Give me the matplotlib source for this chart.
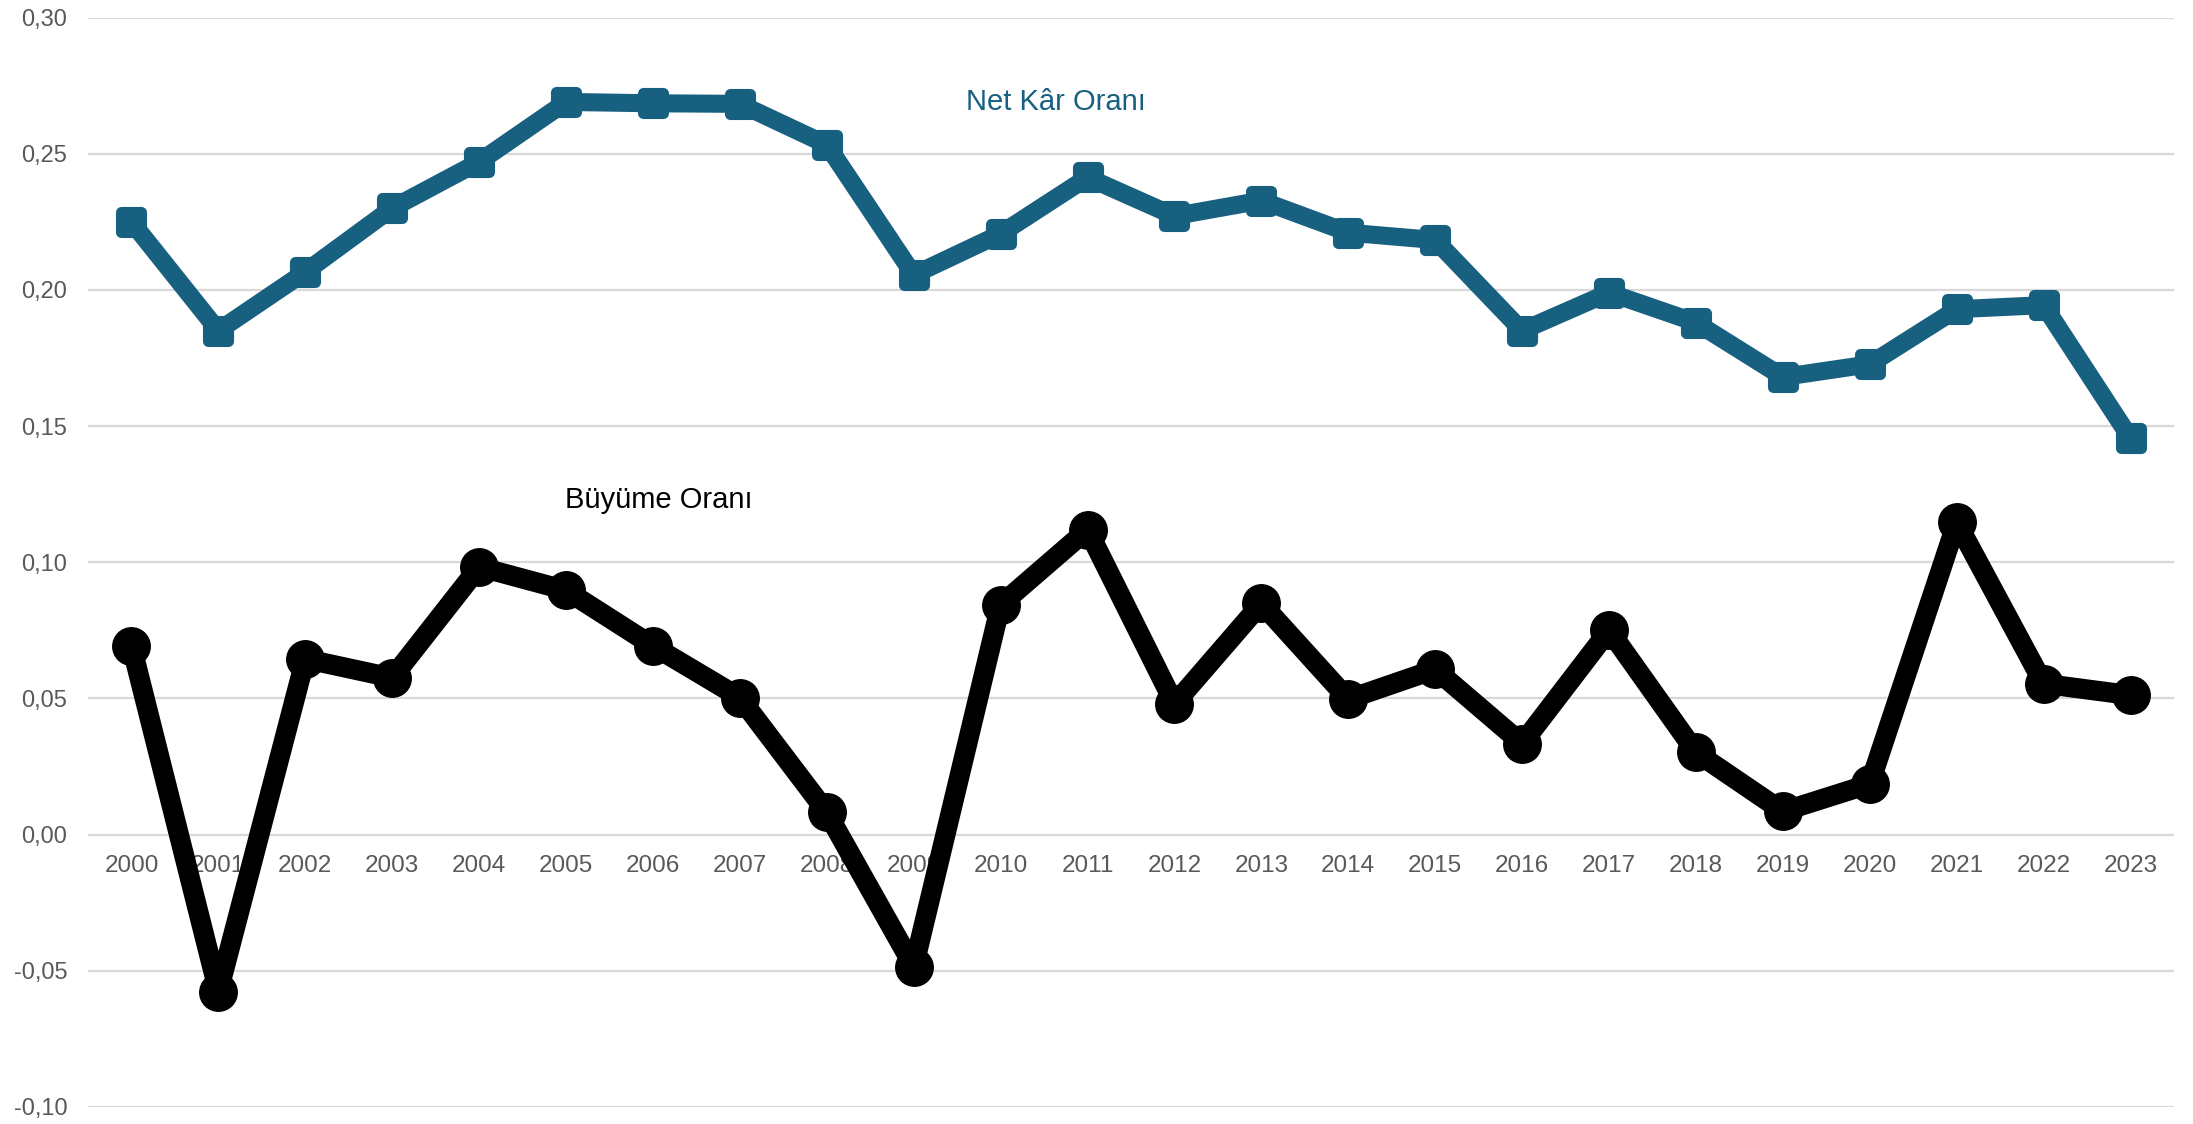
import matplotlib
matplotlib.use("Agg")
import matplotlib.pyplot as plt
from matplotlib.ticker import FuncFormatter
from matplotlib.markers import MarkerStyle

years = [str(y) for y in range(2000, 2024)]
net_kar = [0.225, 0.185, 0.2066, 0.230, 0.247, 0.269, 0.2685, 0.2683, 0.2533, 0.2055,
           0.2206, 0.2413, 0.2271, 0.2328, 0.221, 0.2183, 0.185, 0.199, 0.188, 0.168,
           0.1727, 0.1929, 0.1944, 0.1455]
buyume = [0.0693, -0.0576, 0.0645, 0.0576, 0.0983, 0.0897, 0.0693, 0.0503, 0.0082, -0.0485,
          0.0844, 0.112, 0.048, 0.0849, 0.0497, 0.0607, 0.0334, 0.0751, 0.0302, 0.0085,
          0.0186, 0.1147, 0.0554, 0.0512]
yticks = [-0.10, -0.05, 0.00, 0.05, 0.10, 0.15, 0.20, 0.25, 0.30]

plt.rcParams['font.family'] = ['Liberation Sans', 'DejaVu Sans']

BLUE = '#186080'
GRAY = '#595959'

fig = plt.figure(figsize=(21.93, 11.24), dpi=100)
ax = fig.add_axes([88/2193, 1 - 1107/1124, (2174-88)/2193, (1107-17.5)/1124])

x = list(range(len(years)))
sq = MarkerStyle('s', joinstyle='round')
ax.plot(x, net_kar, color=BLUE, lw=13, marker=sq, ms=15, mew=8, mec=BLUE, mfc=BLUE,
        solid_joinstyle='round', zorder=3, clip_on=False)
ax.plot(x, buyume, color='black', lw=14.5, marker='o', ms=27, mfc='black', mec='black',
        solid_joinstyle='round', zorder=4, clip_on=False)

ax.set_xlim(-0.5, len(years) - 0.5)
ax.set_ylim(-0.10, 0.30)
ax.set_yticks(yticks)
ax.yaxis.set_major_formatter(FuncFormatter(lambda v, p: f"{v:.2f}".replace('.', ',').replace('-0,00', '0,00')))
ax.set_xticks(x)
ax.set_xticklabels(years)

ax.grid(axis='y', color='#d9d9d9', lw=1.6, zorder=0)
ax.set_axisbelow(True)
for s in ax.spines.values():
    s.set_visible(False)
ax.spines['bottom'].set_position(('data', 0))
ax.tick_params(axis='x', length=0, pad=14.5, labelsize=17.5, labelcolor=GRAY)
ax.tick_params(axis='y', length=0, pad=15, labelsize=17, labelcolor=GRAY)

ax.text(10.64, 0.2688, 'Net Kâr Oranı', color=BLUE, fontsize=21, ha='center', va='center')
ax.text(6.07, 0.1228, 'Büyüme Oranı', color='black', fontsize=21, ha='center', va='center')

fig.savefig('out.png', dpi=100)
